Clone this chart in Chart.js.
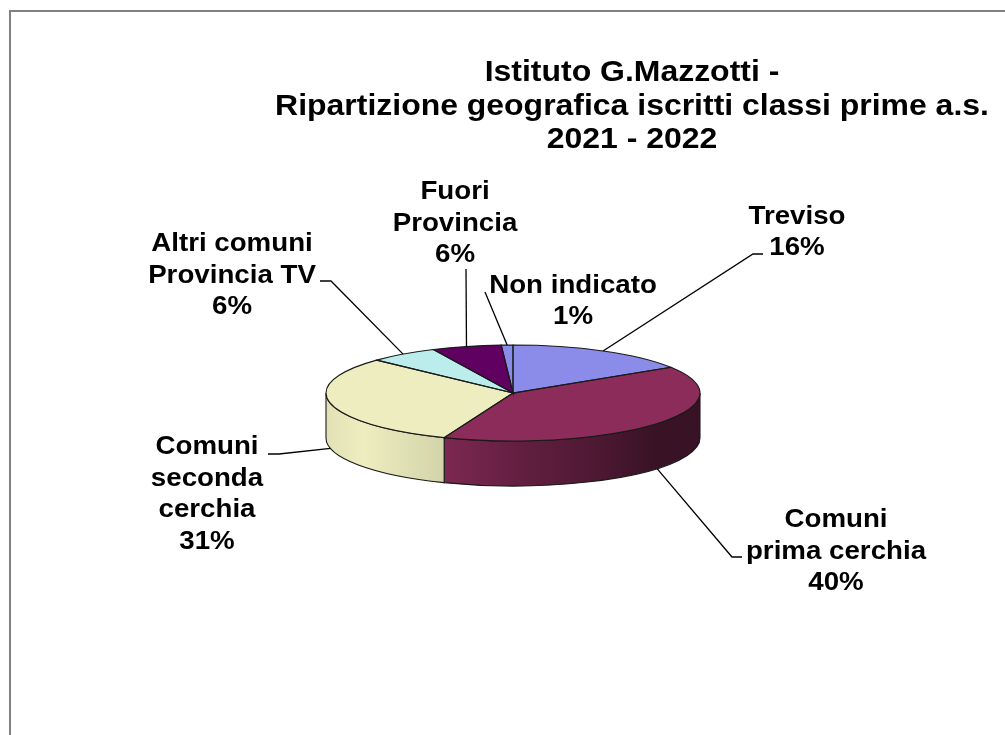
<!DOCTYPE html>
<html>
<head>
<meta charset="utf-8">
<script src="https://cdn.jsdelivr.net/npm/chart.js@4.4.1/dist/chart.umd.min.js"></script>
<style>
    html, body { margin: 0; padding: 0; background: #fff; }
    .chart_box { position: relative; width: 1005px; height: 735px; }
</style>
</head>
<body>
<div class="chart_box"><canvas id="pie-chart"></canvas></div>
<script>
// data
const categories = ["Treviso", "Comuni prima cerchia", "Comuni seconda cerchia", "Altri comuni Provincia TV", "Fuori Provincia", "Non indicato"];
const percentages = [16, 40, 31, 6, 6, 1];
const labelLines = [["Treviso"], ["Comuni", "prima cerchia"], ["Comuni", "seconda", "cerchia"], ["Altri comuni", "Provincia TV"], ["Fuori", "Provincia"], ["Non indicato"]];
const titleLines = ["Istituto G.Mazzotti -", "Ripartizione geografica iscritti classi prime a.s.", "2021 - 2022"];

// look
const sliceColors = ["#8b8bea", "#8b2c5b", "#ededbf", "#bbeded", "#600060", "#8b8bea"];
const FONT = '"Liberation Sans", Arial, sans-serif';
const STRETCH = 1.065; // text in the picture is a bit wide
const PIE = { rx: 187, ry: 48, depth: 45 };
// label blocks: centre of text, then where the leader line meets the text
const labelLayout = [
    { x: 797, y: 230, attach: [763, 254], knee: [753, 254] },
    { x: 836, y: 549, attach: [742, 557], knee: [732, 557] },
    { x: 207, y: 492, attach: [268, 454], knee: [279, 454] },
    { x: 232, y: 273, attach: [320, 281], knee: [331, 281] },
    { x: 455, y: 221, attach: [466, 269], knee: [466, 269] },
    { x: 573, y: 299, attach: [485, 292], knee: [485, 292] },
];

function stretchedText(ctx, text, x, y) {
    ctx.save();
    ctx.translate(x, y);
    ctx.scale(STRETCH, 1);
    ctx.fillText(text, 0, 0);
    ctx.restore();
}

const pie3d = {
    id: "pie3d",
    beforeDraw(chart) {
        const ctx = chart.ctx;
        ctx.save();
        ctx.strokeStyle = "#808080";
        ctx.lineWidth = 2;
        ctx.strokeRect(10, 11, 2000, 2000);
        // title
        ctx.fillStyle = "#000";
        ctx.font = "bold 30px " + FONT;
        ctx.textAlign = "center";
        ctx.textBaseline = "alphabetic";
        titleLines.forEach((t, i) => stretchedText(ctx, t, 632, 70 + i * 33.5 + 11));
        ctx.restore();
    },
    beforeDatasetsDraw(chart) {
        const ctx = chart.ctx;
        const arcs = chart.getDatasetMeta(0).data;
        const cx = arcs[0].x, cy = arcs[0].y;
        const { rx, ry, depth } = PIE;
        const shade = ctx.createLinearGradient(cx - rx, 0, cx + rx, 0);
        shade.addColorStop(0, "rgba(0,0,0,0.05)");
        shade.addColorStop(0.1, "rgba(0,0,0,0)");
        shade.addColorStop(0.32, "rgba(0,0,0,0.11)");
        shade.addColorStop(0.5, "rgba(0,0,0,0.28)");
        shade.addColorStop(0.73, "rgba(0,0,0,0.45)");
        shade.addColorStop(0.87, "rgba(0,0,0,0.58)");
        shade.addColorStop(1, "rgba(0,0,0,0.6)");
        ctx.save();
        arcs.forEach((arc, i) => {
            const lo = Math.max(arc.startAngle, 0);
            const hi = Math.min(arc.endAngle, Math.PI);
            if (lo >= hi) return;
            ctx.beginPath();
            ctx.ellipse(cx, cy, rx, ry, 0, lo, hi);
            ctx.lineTo(cx + rx * Math.cos(hi), cy + ry * Math.sin(hi) + depth);
            ctx.ellipse(cx, cy + depth, rx, ry, 0, hi, lo, true);
            ctx.closePath();
            ctx.fillStyle = sliceColors[i];
            ctx.fill();
            ctx.fillStyle = shade;
            ctx.fill();
            ctx.strokeStyle = "#1a1a1a";
            ctx.lineWidth = 1.1;
            ctx.stroke();
        });
        ctx.restore();
        // squash the library's round pie into the top face
        ctx.save();
        ctx.translate(0, cy);
        ctx.scale(1, ry / rx);
        ctx.translate(0, -cy);
    },
    afterDatasetsDraw(chart) {
        const ctx = chart.ctx;
        ctx.restore();
        const arcs = chart.getDatasetMeta(0).data;
        const cx = arcs[0].x, cy = arcs[0].y;
        const { rx, ry, depth } = PIE;
        ctx.save();
        ctx.strokeStyle = "#1a1a1a";
        ctx.lineWidth = 1.1;
        arcs.forEach((arc) => {
            ctx.beginPath();
            ctx.moveTo(cx, cy);
            ctx.ellipse(cx, cy, rx, ry, 0, arc.startAngle, arc.endAngle);
            ctx.closePath();
            ctx.stroke();
        });
        // labels and leader lines
        ctx.strokeStyle = "#000";
        ctx.lineWidth = 1.3;
        ctx.fillStyle = "#000";
        ctx.font = "bold 26px " + FONT;
        ctx.textAlign = "center";
        arcs.forEach((arc, i) => {
            const mid = (arc.startAngle + arc.endAngle) / 2;
            let ax = cx + rx * Math.cos(mid);
            let ay = cy + ry * Math.sin(mid);
            if (Math.sin(mid) > 0) ay += depth;
            const lay = labelLayout[i];
            ctx.beginPath();
            ctx.moveTo(ax, ay);
            ctx.lineTo(lay.knee[0], lay.knee[1]);
            ctx.lineTo(lay.attach[0], lay.attach[1]);
            ctx.stroke();
            const lines = labelLines[i].concat([percentages[i] + "%"]);
            const top = lay.y - (lines.length - 1) * 31.5 / 2;
            lines.forEach((t, j) => stretchedText(ctx, t, lay.x, top + j * 31.5 + 9.5));
        });
        ctx.restore();
    },
};

new Chart(document.getElementById("pie-chart"), {
    type: "pie",
    data: {
        labels: categories,
        datasets: [
            {
                data: percentages,
                backgroundColor: sliceColors,
                borderWidth: 0,
                radius: PIE.rx,
                clip: false,
            },
        ],
    },
    options: {
        responsive: true,
        maintainAspectRatio: false,
        animation: false,
        layout: { padding: { left: 21, right: 0, top: 51, bottom: 0 } },
        plugins: {
            legend: { display: false },
            title: { display: false },
            tooltip: { enabled: false },
        },
    },
    plugins: [pie3d],
});
</script>
</body>
</html>
